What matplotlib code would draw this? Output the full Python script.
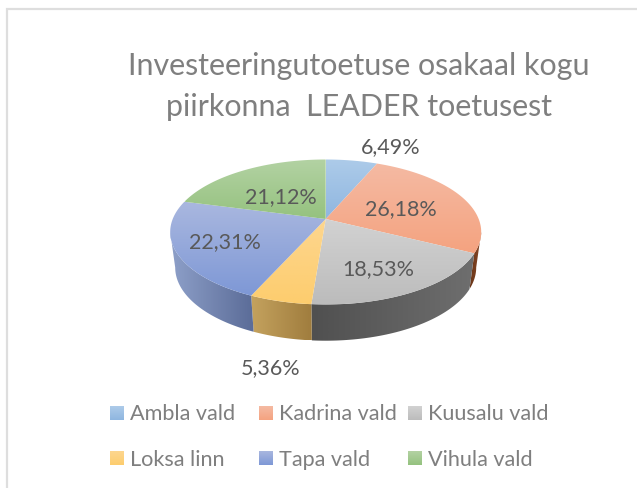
import numpy as np
import matplotlib
matplotlib.use("Agg")
import matplotlib.pyplot as plt
from matplotlib.patches import Polygon
from matplotlib.colors import LinearSegmentedColormap as LSC

categories = ["Ambla vald", "Kadrina vald", "Kuusalu vald", "Loksa linn", "Tapa vald", "Vihula vald"]
values = [6.49, 26.18, 18.53, 5.36, 22.31, 21.12]
title_lines = ["Investeeringutoetuse osakaal kogu", "piirkonna  LEADER toetusest"]

plt.rcParams["font.family"] = ["Lato", "DejaVu Sans"]

# styles
top_light = ["#adcbe9", "#f5baa3", "#d2d2d2", "#fdd68f", "#a9b7df", "#b3d2a3"]
top_dark = ["#8fb6e0", "#f4a380", "#bcbcbc", "#fdcd6e", "#7e98d6", "#95c27f"]
side_left = ["#6f8fb5", "#8a4a28", "#6e6e6e", "#c4a25e", "#8ea0c9", "#7f9f6c"]
side_right = ["#6f8fb5", "#6a3518", "#505050", "#a07d3e", "#5b6c98", "#7f9f6c"]
label_xy = [(391, 147), (401, 209), (378, 269), (271, 368), (225, 242), (281, 197)]

# projection of the tilted disc onto figure pixels
CX, TOP_Y, TOP_RX, TOP_RY = 325.7, 233.0, 155.5, 72.5
BOT_Y, BOT_RX, BOT_RY = 268.5, 150.5, 73.2
APEX = (325.7, 220.0)
K = 0.82


def rim_param(angle):
    a = np.asarray(angle, dtype=float)
    return 2 * np.arctan2(K * np.sin(a / 2), np.cos(a / 2)) % (2 * np.pi)


def rim(p, cy, rx, ry):
    return np.column_stack([CX + rx * np.sin(p), cy - ry * np.cos(p)])


fig = plt.figure(figsize=(6.37, 4.89), dpi=100, facecolor="white")
ax = fig.add_axes([0, 0, 1, 1])


def fill(verts, c0, c1, vertical, z):
    verts = np.asarray(verts)
    x0, y0 = verts.min(axis=0)
    x1, y1 = verts.max(axis=0)
    cmap = LSC.from_list("g", [c0, c1])
    grad = np.linspace(0, 1, 64)
    grad = grad[:, None] if vertical else grad[None, :]
    im = ax.imshow(grad, cmap=cmap, extent=(x0, x1, y1, y0), origin="upper",
                   aspect="auto", zorder=z, interpolation="bilinear")
    patch = Polygon(verts, closed=True, transform=ax.transData, fc="none", ec="none")
    ax.add_patch(patch)
    im.set_clip_path(patch)


edges = np.cumsum([0] + values) / sum(values) * 2 * np.pi
edges[-1] = 2 * np.pi
for i in range(len(values)):
    a0, a1 = edges[i], edges[i + 1]
    t = np.linspace(a0, a1, 80)
    p = rim_param(t)
    if i == len(values) - 1:
        p[-1] = 2 * np.pi
    # side wall (visible lower half only)
    s0, s1 = max(p[0], np.pi / 2), min(p[-1], 3 * np.pi / 2)
    if s1 > s0:
        q = np.linspace(s0, s1, 60)
        wall = np.vstack([rim(q, TOP_Y, TOP_RX, TOP_RY),
                          rim(q[::-1], BOT_Y, BOT_RX, BOT_RY)])
        # wall gradient runs left to right on screen
        fill(wall, side_right[i] if q[0] < np.pi else side_left[i],
             side_left[i] if q[0] < np.pi else side_right[i], False, 2)
    # top face
    face = np.vstack([[APEX], rim(p, TOP_Y, TOP_RX, TOP_RY)])
    fill(face, top_light[i], top_dark[i], True, 3)

    txt = f"{values[i]:.2f}".replace(".", ",") + "%"
    ax.text(*label_xy[i], txt, ha="center", va="center", fontsize=15.5, color="#595959", zorder=5)

# title
ax.text(359, 66, title_lines[0], ha="center", va="center", fontsize=21.9, color="#7f7f7f")
ax.text(359, 107, title_lines[1], ha="center", va="center", fontsize=21.9, color="#7f7f7f")

# legend
col_x = [110, 259, 408]
row_y = [414, 459]
for i, name in enumerate(categories):
    x = col_x[i % 3]
    y = row_y[i // 3]
    fill([(x, y - 7), (x + 14, y - 7), (x + 14, y + 7), (x, y + 7)], top_light[i], top_dark[i], True, 3)
    ax.text(x + 20, y + 0.5, name, ha="left", va="center", fontsize=15.6, color="#7f7f7f")

# chart frame
ax.plot([6.5, 6.5, 637], [489, 9.5, 9.5], color="#dedede", lw=1.6, zorder=1, solid_joinstyle="miter")

ax.set_xlim(0, 637)
ax.set_ylim(489, 0)
ax.axis("off")
fig.savefig("out.png", dpi=100)
